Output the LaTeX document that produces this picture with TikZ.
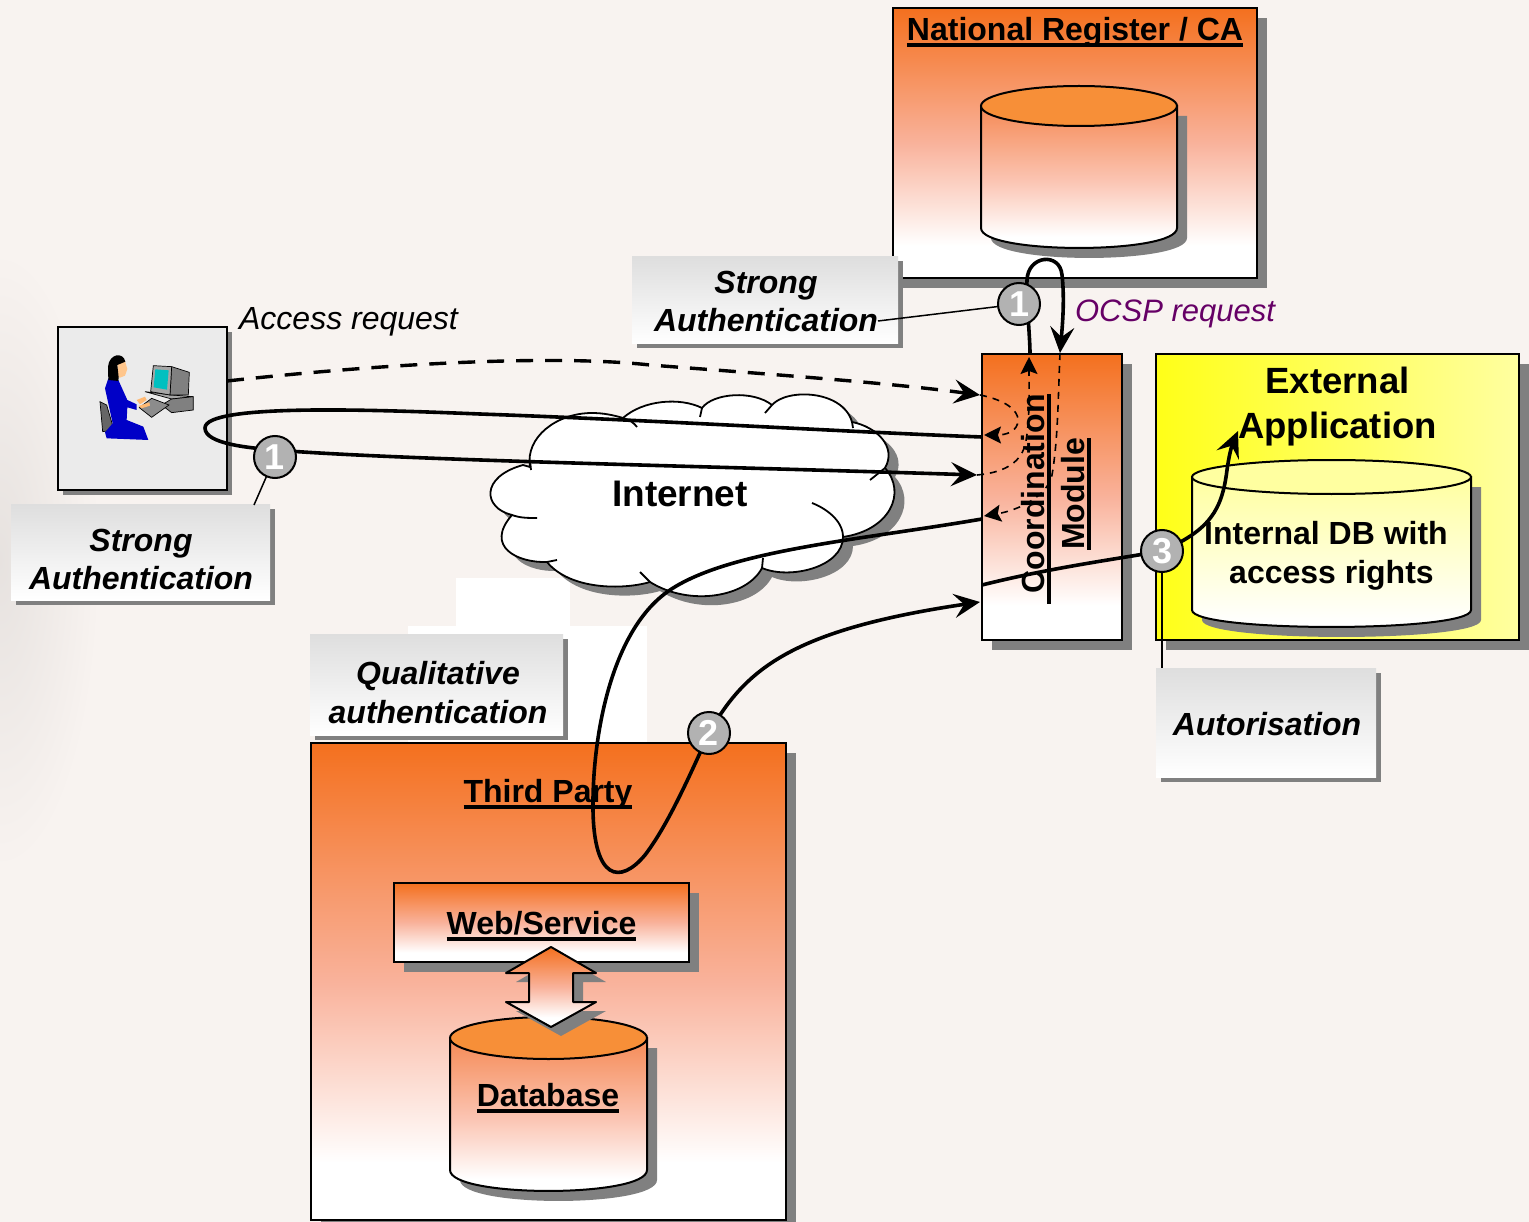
\documentclass[tikz,border=0pt]{standalone}
\usepackage{fontspec}
\setmainfont{Liberation Sans}
\usetikzlibrary{arrows.meta,shadows}
\pgfdeclarelayer{top}
\pgfsetlayers{main,top}
\definecolor{bgc}{HTML}{F8F3F0}
\definecolor{org}{HTML}{F4701E}
\definecolor{orgm}{HTML}{F9B29B}
\definecolor{orgtop}{HTML}{F78F38}
\definecolor{cylb}{HTML}{F58A55}
\definecolor{cylm}{HTML}{FBC4B2}
\definecolor{shd}{HTML}{808080}
\definecolor{lab}{HTML}{DEDEDE}
\definecolor{numg}{HTML}{B2B2B2}
\definecolor{ocsp}{HTML}{660066}
\definecolor{yel}{HTML}{FFFF18}
\definecolor{yelb}{HTML}{FFFFA0}
\definecolor{scr}{HTML}{00C0C0}
\pgfdeclareverticalshading{orgshade}{100bp}{color(0bp)=(white);color(31bp)=(white);color(50bp)=(orgm);color(75bp)=(org);color(100bp)=(org)}
\pgfdeclareverticalshading{cylshade}{100bp}{color(0bp)=(white);color(31bp)=(white);color(50bp)=(cylm);color(75bp)=(cylb);color(100bp)=(cylb)}
\pgfdeclareverticalshading{yelshade}{100bp}{color(0bp)=(white);color(28bp)=(white);color(75bp)=(yelb);color(100bp)=(yelb)}
\newcommand{\fs}[1]{\fontsize{#1}{#1}\selectfont}
\newcommand{\uline}[1]{\setbox0\hbox{#1}\rlap{\raisebox{-6.5pt}[0pt][0pt]{\rule{\wd0}{3.5pt}}}\box0}
\newcommand{\ulinex}[1]{\setbox0\hbox{#1}\rlap{\kern-10pt\raisebox{-6.5pt}[0pt][0pt]{\rule{\dimexpr\wd0+10pt\relax}{3.5pt}}}\box0}
\newcommand{\cyl}[7]{% x1 x2 ytop ybot ry shading topcolor
  \pgfmathsetmacro{\cxm}{(#1+#2)/2}\pgfmathsetmacro{\crx}{(#2-#1)/2}
  \fill[shd] (#1+10,#3+10) -- (#1+10,#4+10) .. controls (#1+10,#4+10+#5*1.33) and (#2+10,#4+10+#5*1.33) .. (#2+10,#4+10) -- (#2+10,#3+10) -- cycle;
  \path[draw=black,line width=2pt,shading=#6] (#1,#3) -- (#1,#4) .. controls (#1,#4+#5*1.33) and (#2,#4+#5*1.33) .. (#2,#4) -- (#2,#3) -- cycle;
  \draw[line width=2pt,fill=#7] (\cxm,#3) ellipse[x radius=\crx pt,y radius=#5 pt];
}
\tikzset{
  pane/.style={draw=black,line width=2pt,inner sep=0pt,outer sep=0pt,rectangle},
  sh10/.style={drop shadow={shadow xshift=10pt,shadow yshift=-10pt,fill=shd,opacity=1}},
  sh5/.style={drop shadow={shadow xshift=5pt,shadow yshift=-5pt,fill=shd,opacity=1}},
  orangebox/.style={pane,sh10,shading=orgshade},
  labelbox/.style={rectangle,inner sep=0pt,outer sep=0pt,top color=lab,bottom color=white,
     drop shadow={shadow xshift=4.5pt,shadow yshift=-4.5pt,fill=shd,opacity=1}},
  labeltext/.style={inner sep=0pt,outer sep=0pt,align=center,text=black,font=\bfseries\itshape\fontsize{32}{38.5}\selectfont},
  numc/.style={circle,draw=black,line width=2pt,fill=numg,minimum size=42pt,inner sep=0pt,outer sep=0pt,font=\bfseries\fs{36},text=white},
  plain/.style={inner sep=0pt,outer sep=0pt,align=center,text=black},
  con/.style={line width=3.6pt,draw=black},
  bigtip/.style={-{Stealth[length=26pt,width=24pt,inset=10pt]}},
  dcon/.style={line width=1.6pt,draw=black,dash pattern=on 7pt off 6pt,-{Stealth[length=17pt,width=17pt,inset=3pt]}},
  thin con/.style={line width=1.5pt,draw=black},
  cl/.style={line width=1.8pt,line join=round},
}
\begin{document}
\begin{tikzpicture}[x=1pt,y=-1pt]
\useasboundingbox (0,0) rectangle (1529,1222);
\fill[bgc] (0,0) rectangle (1529,1222);
% soft smudge at the left edge
\begin{scope}
\clip (0,0) rectangle (120,1222);
\shade[inner color=black!7!bgc,outer color=bgc] (0,560) ellipse[x radius=100pt,y radius=310pt];
\end{scope}
% white patches behind the lower label
\fill[white] (456,578) rectangle (570,640);
\fill[white] (408,626) rectangle (647,745);

% boxes
\node[orangebox,minimum width=364pt,minimum height=270pt] (nr) at (1075,143) {};
\node[pane,sh5,fill=black!8,minimum width=169pt,minimum height=163pt] (usr) at (142.5,408.5) {};
\node[orangebox,minimum width=140pt,minimum height=286pt] (cm) at (1052,497) {};
\node[pane,sh10,left color=yel,right color=yelb,minimum width=363pt,minimum height=286pt] (ext) at (1337.5,497) {};
\node[orangebox,minimum width=475pt,minimum height=477pt] (tp) at (548.5,981.5) {};
\node[orangebox,minimum width=295pt,minimum height=79pt] (web) at (541.5,922.5) {};

% cylinders
\cyl{981}{1177}{106}{228}{20}{cylshade}{orgtop}
\cyl{1192}{1471}{477}{610}{17}{yelshade}{yelb}
\cyl{450}{647}{1038}{1170}{21}{cylshade}{orgtop}

% double arrow
\fill[shd,shift={(10,9)}] (551,947) -- (596,973) -- (573,973) -- (573,1002) -- (596,1002) -- (551,1027) -- (506,1002) -- (529,1002) -- (529,973) -- (506,973) -- cycle;
\path[draw=black,line width=2pt,line join=round,shading=orgshade] (551,947) -- (596,973) -- (573,973) -- (573,1002) -- (596,1002) -- (551,1027) -- (506,1002) -- (529,1002) -- (529,973) -- (506,973) -- cycle;

% cloud
\newcommand{\cloudpath}{(530,467) .. controls (525,437) and (557,413) .. (592,413) .. controls (603,413) and (613,415) .. (623,418)
 .. controls (643,400) and (680,397) .. (702,408)
 .. controls (713,393) and (753,390) .. (772,405)
 .. controls (787,388) and (843,390) .. (852,422)
 .. controls (877,427) and (897,447) .. (885,468)
 .. controls (907,493) and (890,530) .. (843,537)
 .. controls (843,567) and (790,580) .. (762,568)
 .. controls (747,597) and (690,607) .. (650,582)
 .. controls (623,590) and (570,590) .. (547,562)
 .. controls (518,563) and (484,547) .. (512,515)
 .. controls (483,508) and (480,477) .. (523,465) -- cycle}
\fill[shd,shift={(10,9)}] \cloudpath;
\fill[white] \cloudpath;
\draw[cl] \cloudpath;
\draw[cl] (530,460) -- (531,470);
\draw[cl] (623,418) .. controls (630,420) and (634,423) .. (637,427);
\draw[cl] (702,408) -- (700,417);
\draw[cl] (772,405) -- (765,413);
\draw[cl] (852,422) -- (853,428);
\draw[cl] (885,468) -- (870,480);
\draw[cl] (843,537) .. controls (843,520) and (825,508) .. (812,503);
\draw[cl] (762,568) -- (763,558);
\draw[cl] (650,582) -- (640,572);
\draw[cl] (547,562) -- (557,560);
\draw[cl] (512,515) .. controls (520,518) and (528,518) .. (537,518);
\node[plain,font=\bfseries\fs{37}] (inet) at (680,494) {Internet};

% person at the computer
\begin{scope}[shift={(90,345)},x=0.3333pt,y=-0.3333pt,line width=0.7pt]
  % chair
  \filldraw[fill=black!60] (30,170) -- (50,180) -- (72,255) -- (38,260) -- cycle;
  % base unit
  \filldraw[fill=black!35] (165,140) -- (245,150) -- (310,155) -- (245,162) -- cycle;
  \filldraw[fill=black!50] (245,162) -- (310,155) -- (310,195) -- (245,203) -- (215,180) -- cycle;
  % monitor
  \filldraw[fill=black!50] (245,65) -- (298,82) -- (295,150) -- (240,150) -- cycle;
  \filldraw[fill=black!35] (190,62) -- (245,65) -- (240,150) -- (182,140) -- cycle;
  \fill[scr] (196,73) -- (236,76) -- (231,134) -- (191,127) -- cycle;
  % keyboard
  \filldraw[fill=black!45] (148,188) -- (185,160) -- (237,180) -- (185,217) -- cycle;
  % body
  \fill[blue!78!black] (55,100) -- (85,105) -- (112,165) -- (140,178) -- (140,195) -- (112,187) -- (110,225) -- (160,245) -- (175,285) -- (50,280) -- (45,262) -- (68,235) -- (45,130) -- cycle;
  % hands and face
  \fill[orange!55!white] (140,165) -- (165,155) -- (170,165) -- (150,178) -- cycle;
  \fill[orange!55!white] (145,183) -- (178,172) -- (180,182) -- (155,190) -- cycle;
  \fill[orange!45!white] (82,55) -- (105,48) -- (112,72) -- (105,92) -- (90,98) -- (85,98) -- cycle;
  % hair
  \fill[black] (54,65) .. controls (58,25) and (100,20) .. (106,50) -- (82,60) -- (86,97) -- (85,108) -- (55,105) -- cycle;
\end{scope}

% named connection points
\coordinate (uA) at (227,381);
\coordinate (cmA) at (980,395);
\coordinate (cmB) at (982,437);
\coordinate (cmC) at (977,475);
\coordinate (cmD) at (982,519);
\coordinate (cmE) at (980,602);
\coordinate (cmF) at (982,585);
\coordinate (cmG) at (1030,354);
\coordinate (cmH) at (1060,353);
\coordinate (extA) at (1238,431);

% marker circles
\begin{pgfonlayer}{top}
  \node[numc] (n1a) at (275,457) {1};
  \node[numc] (n1b) at (1019,304) {1};
  \node[numc] (n2) at (709,733) {2};
  \node[numc] (n3) at (1162,551) {3};
\end{pgfonlayer}

% text of the boxes
\node[plain,font=\bfseries\fs{32}] (nrt) at (1075,32) {\uline{National Register / CA}};
\node[plain,font=\bfseries\fontsize{32}{40}\selectfont,rotate=90] (cmt) at (1053,494) {\ulinex{Coordination}\\\uline{Module}};
\node[plain,font=\bfseries\fontsize{36.5}{45}\selectfont] (extt) at (1337.5,407) {External\\Application};
\node[plain,font=\bfseries\fontsize{32}{39}\selectfont] (dbt) at (1331.5,555.5) {Internal DB with\hspace*{11pt}\\access rights};
\node[plain,font=\bfseries\fs{32}] (tpt) at (548,794) {\uline{Third Party}};
\node[plain,font=\bfseries\fs{32}] (wbt) at (541.5,923) {\uline{Web/Service}};
\node[plain,font=\bfseries\fs{32}] (dat) at (548,1095) {\uline{Database}};
\node[plain,font=\itshape\fs{32}] (acc) at (348.5,322) {Access request};
\node[plain,font=\itshape\fs{31},text=ocsp] (oc) at (1175,314) {OCSP request};

% labels
\node[labelbox,minimum width=259pt,minimum height=96pt] (l1b) at (140.5,552) {};
\node[labeltext] (l1) at (141,559.5) {Strong\\Authentication};
\node[labelbox,minimum width=266pt,minimum height=87pt] (l2b) at (765,300.5) {};
\node[labeltext] (l2) at (766,301.5) {Strong\\Authentication};
\node[labelbox,minimum width=253pt,minimum height=101pt] (l3b) at (436.5,684.5) {};
\node[labeltext] (l3) at (438,692.5) {Qualitative\\authentication};
\node[labelbox,minimum width=220pt,minimum height=109pt] (l4b) at (1266,722.5) {};
\node[labeltext] (l4) at (1267,724) {Autorisation};
\coordinate (l2e) at (878,321);
\coordinate (l1e) at (254,505);
\coordinate (l4e) at (1162,668);

% thin leaders
\draw[thin con] (n1a) -- (l1e);
\draw[thin con] (n1b) -- (l2e);
\draw[thin con] (n3) -- (l4e);

% access request
\draw[line width=3.4pt,dash pattern=on 17pt off 12pt,bigtip] (uA) .. controls (400,362) and (560,355) .. (650,365) .. controls (780,375) and (890,383) .. (cmA);

% strong authentication loop
\draw[con,bigtip] (cmB) .. controls (850,432) and (650,420) .. (480,414) .. controls (380,410) and (205,403) .. (205,428) .. controls (205,444) and (250,448) .. (275,450) .. controls (400,460) and (700,466) .. (cmC);

% thin dashed inside the module
\draw[dcon] (cmA) .. controls (1005,400) and (1018,410) .. (1018,420) .. controls (1018,432) and (1005,435) .. (984,435);
\draw[dcon] (cmC) .. controls (1000,473) and (1020,465) .. (1025,445) .. controls (1030,425) and (1029,390) .. (1029,357);
\draw[dcon] (cmH) .. controls (1058,400) and (1058,440) .. (1052,475) .. controls (1048,495) and (1020,510) .. (984,516);

% OCSP loop
\draw[con,bigtip] (cmG) .. controls (1030,335) and (1026,300) .. (1027,280) .. controls (1028,255) and (1060,252) .. (1062,275) .. controls (1065,300) and (1062,330) .. (cmH);

% qualitative authentication
\draw[con,bigtip] (cmD) .. controls (860,540) and (730,550) .. (670,590) .. controls (610,630) and (592,740) .. (593,810) .. controls (594,880) and (620,885) .. (645,855) .. controls (668,825) and (690,775) .. (709,733) .. controls (745,670) and (790,630) .. (cmE);

% authorisation
\draw[con,bigtip] (cmF) .. controls (1050,568) and (1110,560) .. (1162,551) .. controls (1210,530) and (1222,510) .. (1227,470) .. controls (1229,455) and (1232,445) .. (extA);
\end{tikzpicture}
\end{document}
